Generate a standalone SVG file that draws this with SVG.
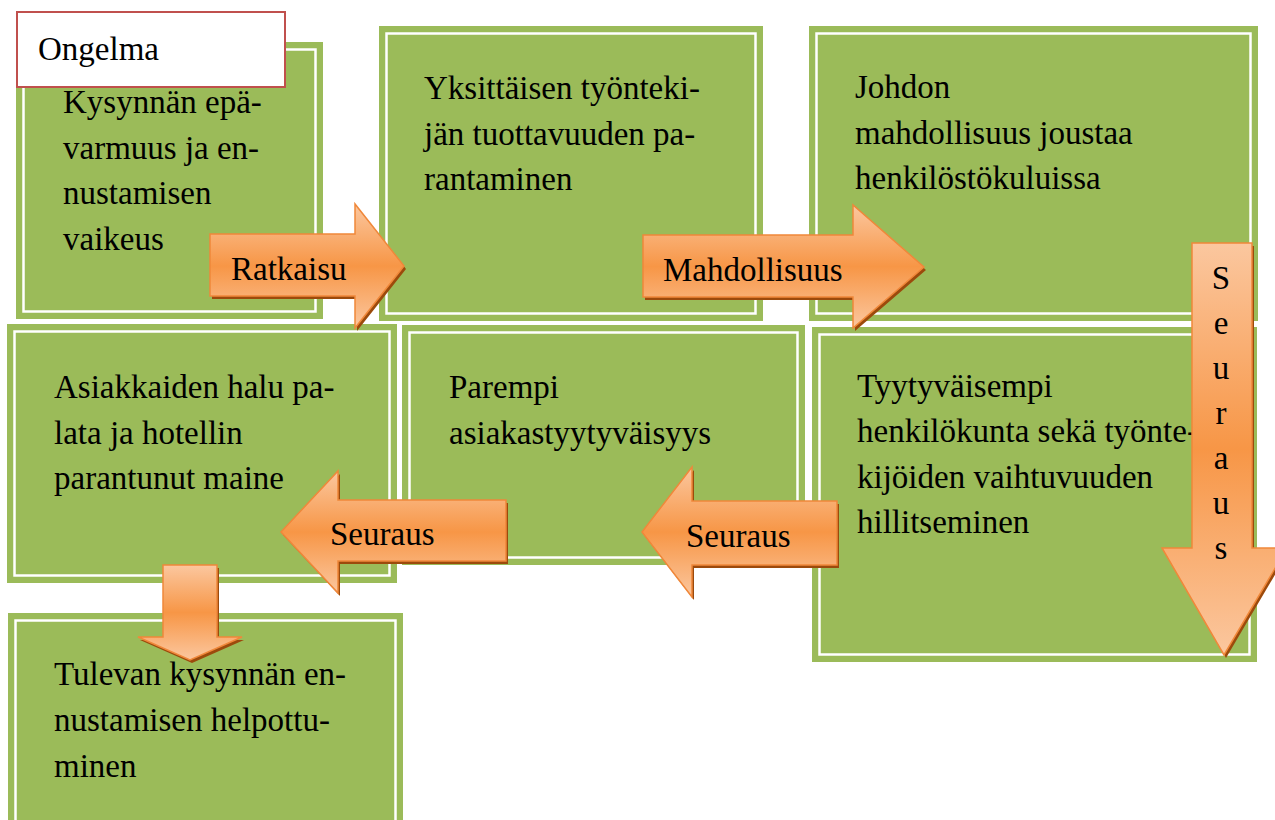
<svg xmlns="http://www.w3.org/2000/svg" width="1275" height="820" viewBox="0 0 1275 820">
<style>
.box{fill:#9bbb59}
.inner{fill:none;stroke:#ffffff;stroke-width:2.5}
.t{font-family:"Liberation Serif","Times New Roman",serif;font-size:33px;fill:#000}
.arrow{fill:url(#og);stroke:#f0883a;stroke-width:1.5;stroke-linejoin:miter}
.shadow{fill:#9c4a0c}
</style>
<defs>
<linearGradient id="og" x1="0" y1="0" x2="0" y2="1">
<stop offset="0" stop-color="#fbc79f"/>
<stop offset="0.5" stop-color="#f79646"/>
<stop offset="1" stop-color="#fbc79f"/>
</linearGradient>
</defs>
<rect width="1275" height="820" fill="#ffffff"/>

<g id="node-kysynta">
<rect class="box" x="16" y="42" width="307" height="277"/>
<rect class="inner" x="23.5" y="49.5" width="292" height="262"/>
<text class="t" x="63" y="113">Kysynnän epä-</text>
<text class="t" x="63" y="159">varmuus ja en-</text>
<text class="t" x="63" y="204">nustamisen</text>
<text class="t" x="63" y="250">vaikeus</text>
</g>

<g id="node-tuottavuus">
<rect class="box" x="379" y="26" width="384" height="295"/>
<rect class="inner" x="386.5" y="33.5" width="369" height="280"/>
<text class="t" x="424" y="99">Yksittäisen työnteki-</text>
<text class="t" x="424" y="144.5">jän tuottavuuden pa-</text>
<text class="t" x="424" y="190">rantaminen</text>
</g>

<g id="node-johto">
<rect class="box" x="809" y="26" width="449" height="295"/>
<rect class="inner" x="816.5" y="33.5" width="434" height="280"/>
<text class="t" x="855" y="98">Johdon</text>
<text class="t" x="855" y="143.5">mahdollisuus joustaa</text>
<text class="t" x="855" y="189">henkilöstökuluissa</text>
</g>

<g id="node-asiakkaat">
<rect class="box" x="7" y="324" width="390" height="259"/>
<rect class="inner" x="14.5" y="331.5" width="375" height="244"/>
<text class="t" x="54" y="398">Asiakkaiden halu pa-</text>
<text class="t" x="54" y="443.5">lata ja hotellin</text>
<text class="t" x="54" y="489">parantunut maine</text>
</g>

<g id="node-asiakastyytyvaisyys">
<rect class="box" x="402" y="325" width="403" height="240"/>
<rect class="inner" x="409.5" y="332.5" width="388" height="225"/>
<text class="t" x="449" y="398">Parempi</text>
<text class="t" x="449" y="443.5">asiakastyytyväisyys</text>
</g>

<g id="node-henkilokunta">
<rect class="box" x="812" y="327" width="445" height="335"/>
<rect class="inner" x="819.5" y="334.5" width="430" height="320"/>
<text class="t" x="857" y="397">Tyytyväisempi</text>
<text class="t" x="857" y="442">henkilökunta sekä työnte-</text>
<text class="t" x="857" y="488">kijöiden vaihtuvuuden</text>
<text class="t" x="857" y="533">hillitseminen</text>
</g>

<g id="node-ennustaminen">
<rect class="box" x="8" y="613" width="395" height="220"/>
<rect class="inner" x="15.5" y="620.5" width="380" height="220"/>
<text class="t" x="54" y="685">Tulevan kysynnän en-</text>
<text class="t" x="54" y="731">nustamisen helpottu-</text>
<text class="t" x="54" y="777">minen</text>
</g>

<g id="node-ongelma">
<rect x="17" y="12" width="268" height="75" fill="#ffffff" stroke="#c0504d" stroke-width="2"/>
<text class="t" x="38" y="60">Ongelma</text>
</g>

<g id="connectors">
<g id="arrow-ratkaisu">
<path class="shadow" transform="translate(2,3)" d="M210,234 H355 V204 L404,266 L355,328 V296 H210 Z"/>
<path class="arrow" d="M210,234 H355 V204 L404,266 L355,328 V296 H210 Z"/>
<text class="t" x="231" y="280">Ratkaisu</text>
</g>
<g id="arrow-mahdollisuus">
<path class="shadow" transform="translate(2,3)" d="M643,235 H853 V205 L924,267 L853,328 V297 H643 Z"/>
<path class="arrow" d="M643,235 H853 V205 L924,267 L853,328 V297 H643 Z"/>
<text class="t" x="663" y="281">Mahdollisuus</text>
</g>
<g id="arrow-seuraus-down-right">
<path class="shadow" transform="translate(2,3)" d="M1192,243 H1252 V548 H1287 L1224,655 L1162,548 H1192 Z"/>
<path class="arrow" d="M1192,243 H1252 V548 H1287 L1224,655 L1162,548 H1192 Z"/>
<text class="t" x="1221" y="289" text-anchor="middle">S</text>
<text class="t" x="1221" y="334" text-anchor="middle">e</text>
<text class="t" x="1221" y="379" text-anchor="middle">u</text>
<text class="t" x="1221" y="424" text-anchor="middle">r</text>
<text class="t" x="1221" y="469" text-anchor="middle">a</text>
<text class="t" x="1221" y="514" text-anchor="middle">u</text>
<text class="t" x="1221" y="559" text-anchor="middle">s</text>
</g>
<g id="arrow-seuraus-right">
<path class="shadow" transform="translate(2,3)" d="M837,501 H692 V467 L642,532 L692,597 V565 H837 Z"/>
<path class="arrow" d="M837,501 H692 V467 L642,532 L692,597 V565 H837 Z"/>
<text class="t" x="686" y="547">Seuraus</text>
</g>
<g id="arrow-seuraus-left">
<path class="shadow" transform="translate(2,3)" d="M506,500 H338 V471 L281,532 L338,593 V561 H506 Z"/>
<path class="arrow" d="M506,500 H338 V471 L281,532 L338,593 V561 H506 Z"/>
<text class="t" x="330" y="545">Seuraus</text>
</g>
<g id="arrow-down-left">
<path class="shadow" transform="translate(2,3)" d="M163,565 H217 V637 H242 L190,660 L138,637 H163 Z"/>
<path class="arrow" d="M163,565 H217 V637 H242 L190,660 L138,637 H163 Z"/>
</g>
</g>
</svg>
